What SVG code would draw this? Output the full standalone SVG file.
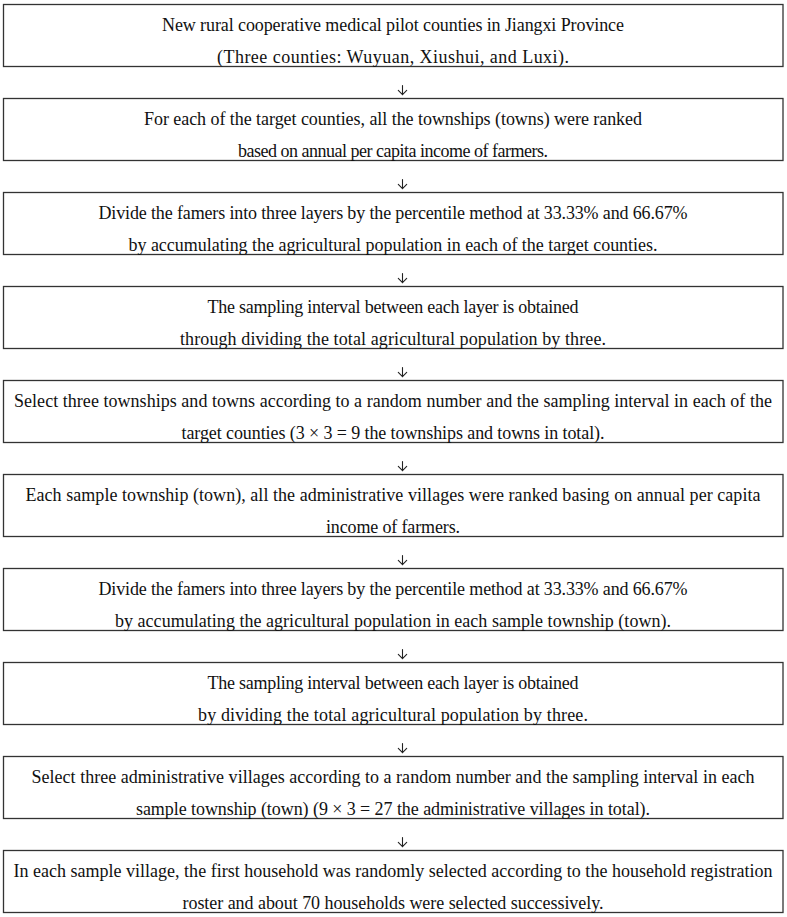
<svg xmlns="http://www.w3.org/2000/svg" width="787" height="917" viewBox="0 0 787 917">
<style>
  .box { fill: #ffffff; stroke: #333333; stroke-width: 1.3; }
  .t { font-family: "Liberation Serif", "Times New Roman", serif; font-size: 18px; fill: #111111; text-anchor: middle; }
  .conn { fill: none; stroke: #222222; stroke-width: 1.1; stroke-linecap: round; stroke-linejoin: round; }
</style>
<rect width="787" height="917" fill="#ffffff"/>
<g id="connectors">
  <path class="conn" d="M402.5,85.5 V94.7 M398.3,90.4 L402.5,94.7 L406.7,90.4"/>
  <path class="conn" d="M402.5,179.5 V188.7 M398.3,184.4 L402.5,188.7 L406.7,184.4"/>
  <path class="conn" d="M402.5,273.5 V282.7 M398.3,278.4 L402.5,282.7 L406.7,278.4"/>
  <path class="conn" d="M402.5,367.5 V376.7 M398.3,372.4 L402.5,376.7 L406.7,372.4"/>
  <path class="conn" d="M402.5,461.5 V470.7 M398.3,466.4 L402.5,470.7 L406.7,466.4"/>
  <path class="conn" d="M402.5,555.5 V564.7 M398.3,560.4 L402.5,564.7 L406.7,560.4"/>
  <path class="conn" d="M402.5,649.5 V658.7 M398.3,654.4 L402.5,658.7 L406.7,654.4"/>
  <path class="conn" d="M402.5,743.5 V752.7 M398.3,748.4 L402.5,752.7 L406.7,748.4"/>
  <path class="conn" d="M402.5,837.5 V846.7 M398.3,842.4 L402.5,846.7 L406.7,842.4"/>
</g>
<g id="node1">
  <rect class="box" x="3.5" y="4.5" width="779.5" height="62"/>
  <text class="t" x="393" y="31" textLength="462" lengthAdjust="spacing">New rural cooperative medical pilot counties in Jiangxi Province</text>
  <text class="t" x="393" y="62.5" textLength="352" lengthAdjust="spacing">(Three counties: Wuyuan, Xiushui, and Luxi).</text>
</g>
<g id="node2">
  <rect class="box" x="3.5" y="98.5" width="779.5" height="62"/>
  <text class="t" x="393" y="125" textLength="498" lengthAdjust="spacing">For each of the target counties, all the townships (towns) were ranked</text>
  <text class="t" x="393" y="156.5" textLength="310" lengthAdjust="spacing">based on annual per capita income of farmers.</text>
</g>
<g id="node3">
  <rect class="box" x="3.5" y="192.5" width="779.5" height="62"/>
  <text class="t" x="393" y="219" textLength="589" lengthAdjust="spacing">Divide the famers into three layers by the percentile method at 33.33% and 66.67%</text>
  <text class="t" x="393" y="250.5" textLength="529" lengthAdjust="spacing">by accumulating the agricultural population in each of the target counties.</text>
</g>
<g id="node4">
  <rect class="box" x="3.5" y="286.5" width="779.5" height="62"/>
  <text class="t" x="393" y="313" textLength="371" lengthAdjust="spacing">The sampling interval between each layer is obtained</text>
  <text class="t" x="393" y="344.5" textLength="426" lengthAdjust="spacing">through dividing the total agricultural population by three.</text>
</g>
<g id="node5">
  <rect class="box" x="3.5" y="380.5" width="779.5" height="62"/>
  <text class="t" x="393" y="407" textLength="758" lengthAdjust="spacing">Select three townships and towns according to a random number and the sampling interval in each of the</text>
  <text class="t" x="393" y="438.5" textLength="423" lengthAdjust="spacing">target counties (3 × 3 = 9 the townships and towns in total).</text>
</g>
<g id="node6">
  <rect class="box" x="3.5" y="474.5" width="779.5" height="62"/>
  <text class="t" x="393" y="501" textLength="735" lengthAdjust="spacing">Each sample township (town), all the administrative villages were ranked basing on annual per capita</text>
  <text class="t" x="393" y="532.5" textLength="134" lengthAdjust="spacing">income of farmers.</text>
</g>
<g id="node7">
  <rect class="box" x="3.5" y="568.5" width="779.5" height="62"/>
  <text class="t" x="393" y="595" textLength="589" lengthAdjust="spacing">Divide the famers into three layers by the percentile method at 33.33% and 66.67%</text>
  <text class="t" x="393" y="626.5" textLength="556" lengthAdjust="spacing">by accumulating the agricultural population in each sample township (town).</text>
</g>
<g id="node8">
  <rect class="box" x="3.5" y="662.5" width="779.5" height="62"/>
  <text class="t" x="393" y="689" textLength="371" lengthAdjust="spacing">The sampling interval between each layer is obtained</text>
  <text class="t" x="393" y="720.5" textLength="390" lengthAdjust="spacing">by dividing the total agricultural population by three.</text>
</g>
<g id="node9">
  <rect class="box" x="3.5" y="756.5" width="779.5" height="62"/>
  <text class="t" x="393" y="783" textLength="723" lengthAdjust="spacing">Select three administrative villages according to a random number and the sampling interval in each</text>
  <text class="t" x="393" y="814.5" textLength="514" lengthAdjust="spacing">sample township (town) (9 × 3 = 27 the administrative villages in total).</text>
</g>
<g id="node10">
  <rect class="box" x="3.5" y="850.5" width="779.5" height="62"/>
  <text class="t" x="393" y="877" textLength="759" lengthAdjust="spacing">In each sample village, the first household was randomly selected according to the household registration</text>
  <text class="t" x="393" y="908.5" textLength="421" lengthAdjust="spacing">roster and about 70 households were selected successively.</text>
</g>
</svg>
